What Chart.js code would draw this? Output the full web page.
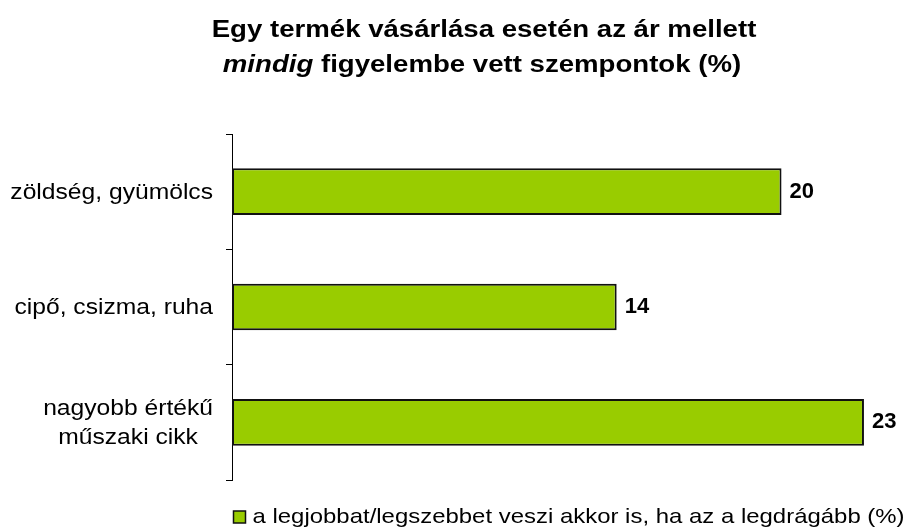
<!DOCTYPE html>
<html>
<head>
<meta charset="utf-8">
<script src="https://cdn.jsdelivr.net/npm/chart.js@4.4.1/dist/chart.umd.min.js"></script>
<style>
    html, body { margin: 0; padding: 0; background: #fff; }
    #wrap { width: 917px; height: 528px; position: relative; }
</style>
</head>
<body>
<div id="wrap"><canvas id="chart"></canvas></div>
<script>
// Adatok
const categories = [
    ['zöldség, gyümölcs'],
    ['cipő, csizma, ruha'],
    ['nagyobb értékű', 'műszaki cikk']
];
const values = [20, 14, 23];
const seriesLabel = 'a legjobbat/legszebbet veszi akkor is, ha az a legdrágább (%)';
const titleLine1 = 'Egy termék vásárlása esetén az ár mellett';
const titleLine2Italic = 'mindig';
const titleLine2Rest = ' figyelembe vett szempontok (%)';

const FONT = '"Liberation Sans", Arial, sans-serif';
const BAR_COLOR = '#99CC00';
const BAR_BORDER = '#111';

// a mintakép szövegei kissé szélesebbek, ezért vízszintesen nyújtjuk őket
function drawText(ctx, text, x, y, align, sx) {
    ctx.save();
    ctx.translate(x, y);
    ctx.scale(sx, 1);
    ctx.textAlign = align;
    ctx.fillText(text, 0, 0);
    ctx.restore();
}

// Cím (vegyes stílus: dőlt + félkövér)
const titlePlugin = {
    id: 'mixedTitle',
    afterDraw(chart) {
        const ctx = chart.ctx;
        const sx = 1.2;
        ctx.save();
        ctx.fillStyle = '#000';
        ctx.textBaseline = 'alphabetic';
        ctx.font = 'bold 23px ' + FONT;
        drawText(ctx, titleLine1, 484, 37, 'center', sx);

        ctx.font = 'italic bold 23px ' + FONT;
        const wItalic = ctx.measureText(titleLine2Italic).width * sx;
        ctx.font = 'bold 23px ' + FONT;
        const wRest = ctx.measureText(titleLine2Rest).width * sx;
        const x = 482 - (wItalic + wRest) / 2;
        ctx.font = 'italic bold 23px ' + FONT;
        drawText(ctx, titleLine2Italic, x, 72, 'left', sx);
        ctx.font = 'bold 23px ' + FONT;
        drawText(ctx, titleLine2Rest, x + wItalic, 72, 'left', sx);
        ctx.restore();
    }
};

// Kategória feliratok: egysoros jobbra, többsoros középre igazítva
const categoryLabelPlugin = {
    id: 'categoryLabels',
    afterDraw(chart) {
        const ctx = chart.ctx;
        const yScale = chart.scales.y;
        const right = yScale.right - 19;
        const lineHeight = 29;
        const sx = 1.12;
        ctx.save();
        ctx.fillStyle = '#000';
        ctx.font = '22px ' + FONT;
        ctx.textBaseline = 'alphabetic';
        categories.forEach((lines, i) => {
            const cy = yScale.getPixelForValue(i);
            const blockW = Math.max(...lines.map(l => ctx.measureText(l).width)) * sx;
            const cx = right - blockW / 2;
            lines.forEach((line, j) => {
                const by = cy + 7 - (lines.length - 1) * lineHeight / 2 + j * lineHeight;
                drawText(ctx, line, cx, by, 'center', sx);
            });
        });
        ctx.restore();
    }
};

// Értékek a sávok végén
const valueLabelPlugin = {
    id: 'valueLabels',
    afterDatasetsDraw(chart) {
        const ctx = chart.ctx;
        const meta = chart.getDatasetMeta(0);
        ctx.save();
        ctx.fillStyle = '#000';
        ctx.font = 'bold 22px ' + FONT;
        ctx.textAlign = 'left';
        ctx.textBaseline = 'middle';
        meta.data.forEach((bar, i) => {
            ctx.fillText(String(values[i]), bar.x + 8, bar.y);
        });
        ctx.restore();
    }
};

// Jelmagyarázat a diagramterület alatt
const legendPlugin = {
    id: 'bottomLegend',
    afterDraw(chart) {
        const ctx = chart.ctx;
        const area = chart.chartArea;
        const sx = 1.14;
        const boxX = area.left + 1.5;
        const boxY = area.bottom + 31;
        ctx.save();
        ctx.fillStyle = BAR_COLOR;
        ctx.fillRect(boxX, boxY, 12, 12);
        ctx.strokeStyle = BAR_BORDER;
        ctx.lineWidth = 1.5;
        ctx.strokeRect(boxX, boxY, 12, 12);
        ctx.fillStyle = '#000';
        ctx.font = '21px ' + FONT;
        ctx.textBaseline = 'alphabetic';
        drawText(ctx, seriesLabel, boxX + 19, area.bottom + 43, 'left', sx);
        ctx.restore();
    }
};

const ctx = document.getElementById('chart').getContext('2d');
new Chart(ctx, {
    type: 'bar',
    data: {
        labels: categories,
        datasets: [{
            label: seriesLabel,
            data: values,
            backgroundColor: BAR_COLOR,
            borderColor: BAR_BORDER,
            borderWidth: 2,
            borderSkipped: false,
            barPercentage: 0.405,
            categoryPercentage: 1
        }]
    },
    options: {
        indexAxis: 'y',
        responsive: true,
        maintainAspectRatio: false,
        animation: false,
        layout: {
            padding: { top: 134, right: 0, bottom: 48, left: 0 }
        },
        scales: {
            x: {
                display: false,
                min: 0,
                max: 24.93
            },
            y: {
                afterFit: (scale) => { scale.width = 232; },
                grid: {
                    display: true,
                    drawOnChartArea: false,
                    drawTicks: true,
                    tickLength: 6,
                    color: '#000',
                    offset: true
                },
                border: {
                    display: true,
                    color: '#000',
                    width: 1
                },
                ticks: {
                    display: false
                }
            }
        },
        plugins: {
            legend: { display: false },
            title: { display: false },
            tooltip: { enabled: false }
        }
    },
    plugins: [titlePlugin, categoryLabelPlugin, valueLabelPlugin, legendPlugin]
});
</script>
</body>
</html>
